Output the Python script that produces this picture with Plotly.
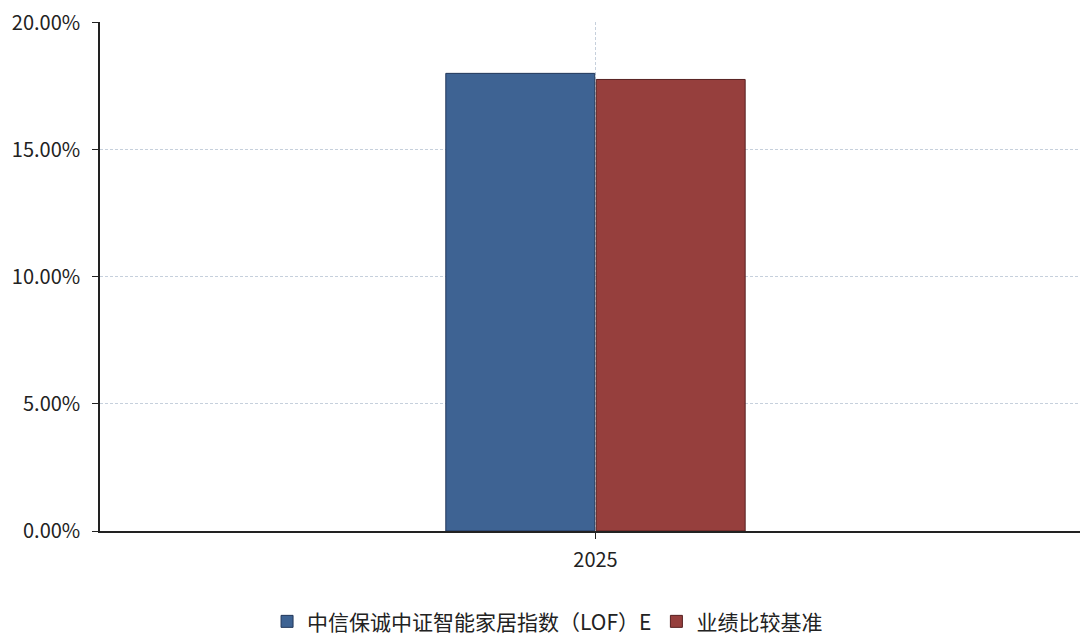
import plotly.graph_objects as go

categories = ["2025"]
fund_values = [18.00]
benchmark_values = [17.76]
fund_name = "中信保诚中证智能家居指数（LOF）E"
benchmark_name = "业绩比较基准"
y_ticks = [0, 5, 10, 15, 20]
y_tick_labels = ["0.00%", "5.00%", "10.00%", "15.00%", "20.00%"]

fig = go.Figure()
fig.add_trace(
    go.Bar(
        x=categories,
        y=fund_values,
        name=fund_name,
        marker=dict(color="#3e6393", line=dict(color="#22375a", width=1)),
    )
)
fig.add_trace(
    go.Bar(
        x=categories,
        y=benchmark_values,
        name=benchmark_name,
        marker=dict(color="#963f3d", line=dict(color="#562020", width=1)),
    )
)

fig.update_layout(
    width=1080,
    height=637,
    margin=dict(l=100, r=0, t=22, b=106, autoexpand=False),
    paper_bgcolor="white",
    plot_bgcolor="white",
    font=dict(family="Noto Sans CJK SC", size=20, color="#222222"),
    barmode="group",
    bargap=0.693,
    bargroupgap=0.01,
    legend=dict(
        orientation="h",
        xref="container",
        yref="container",
        x=0.507,
        xanchor="center",
        y=0.024,
        yanchor="middle",
        font=dict(size=21),
    ),
    showlegend=True,
)
fig.update_xaxes(
    type="category",
    range=[-0.5056, 0.4944],
    showline=True,
    linecolor="#222222",
    linewidth=1.5,
    ticks="outside",
    ticklen=6,
    tickcolor="#222222",
    ticklabelstandoff=4,
    showgrid=True,
    gridcolor="#c6d0dc",
    griddash="3px,2px",
)
fig.update_yaxes(
    range=[0, 20.02],
    tickvals=y_ticks,
    ticktext=y_tick_labels,
    showline=True,
    linecolor="#222222",
    linewidth=1.5,
    ticks="outside",
    ticklen=6,
    tickcolor="#222222",
    ticklabelstandoff=8,
    showgrid=True,
    gridcolor="#c6d0dc",
    griddash="3px,2px",
    zeroline=False,
)

fig.write_html(
    "out.html",
    config={"displayModeBar": False},
    post_script="document.body.style.margin='0';document.body.style.overflow='hidden';",
)
